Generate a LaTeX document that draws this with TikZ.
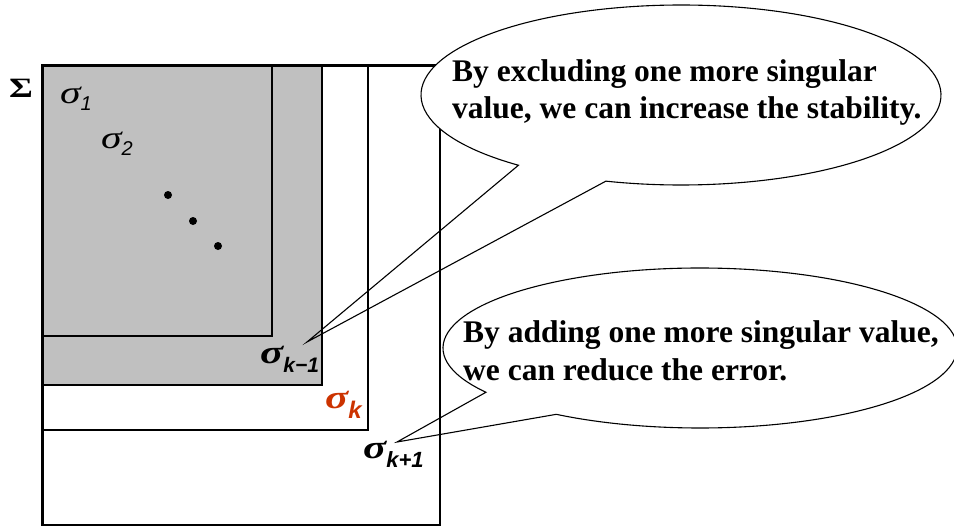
\documentclass[tikz,border=0pt]{standalone}
\usepackage{fontspec}
\setmainfont{Liberation Serif}
\newfontfamily\lsans{Liberation Sans}
\usetikzlibrary{calc,shapes.geometric}
\definecolor{boxgray}{RGB}{192,192,192}
\definecolor{sigred}{RGB}{204,51,0}
\newcommand{\wsig}{\scalebox{1.3}[1]{σ}}
\begin{document}
\begin{tikzpicture}[x=1pt,y=-1pt,
  box/.style={draw=black,line width=1.8pt},
  callout/.style={draw=black,line width=1.1pt,line join=miter},
  bubble/.style={ellipse,fill=white,inner sep=0pt,outer sep=0pt},
  bubbletext/.style={anchor=base west,inner sep=0pt,font=\bfseries\fontsize{31.5}{37}\selectfont},
  lab/.style={anchor=base west,inner sep=0pt}]
\useasboundingbox (0,0) rectangle (954,527);
\fill[white] (0,0) rectangle (954,527);
% nested boxes
\draw[box] (42,66) rectangle (440,525);
\draw[box] (42,66) rectangle (368,430);
\draw[box,fill=boxgray] (42,66) rectangle (322,385);
\draw[box,fill=boxgray] (42,66) rectangle (272,336);
\draw[line width=3pt] (42,525) -- (42,66) -- (440,66);
% labels
\node[lab] (Sig) at (9,98) {\bfseries\fontsize{28}{28}\selectfont\scalebox{1.3}[1]{Σ}};
\node[lab] (s1) at (60,103) {\fontsize{32}{32}\selectfont\itshape \wsig\lower7pt\hbox{\lsans\itshape\fontsize{20}{20}\selectfont 1}};
\node[lab] (s2) at (101,148) {\fontsize{32}{32}\selectfont\itshape \wsig\lower7pt\hbox{\lsans\itshape\fontsize{20}{20}\selectfont 2}};
\node[lab] (skm) at (260,363) {\bfseries\itshape\fontsize{33}{33}\selectfont \wsig\lower9pt\hbox{\lsans\bfseries\itshape\fontsize{21}{21}\selectfont k−1}};
\node[lab,text=sigred] (sk) at (325,408) {\bfseries\itshape\fontsize{33}{33}\selectfont \wsig\lower10pt\hbox{\lsans\bfseries\itshape\fontsize{24}{24}\selectfont k}};
\node[lab] (skp) at (363,458) {\bfseries\itshape\fontsize{33}{33}\selectfont \wsig\lower9pt\hbox{\lsans\bfseries\itshape\fontsize{22}{22}\selectfont k+1}};
% dots
\fill (168,195) circle[radius=4pt];
\fill (193,221) circle[radius=4pt];
\fill (218,246) circle[radius=4pt];
% callouts
\node[bubble,minimum width=520pt,minimum height=180pt] (bub1) at (681,95) {};
\node[bubble,minimum width=514pt,minimum height=160pt] (bub2) at (700,348) {};
\coordinate (tip1) at (307,342);
\coordinate (tip2) at (397,442);
\draw[callout] ($(bub1.center)+(128.7:260 and 90)$) arc[start angle=128.7,end angle=466.8,x radius=260,y radius=90] -- (tip1) -- cycle;
\draw[callout] ($(bub2.center)+(146.4:257 and 80)$) arc[start angle=146.4,end angle=484,x radius=257,y radius=80] -- (tip2) -- cycle;
\node[bubbletext] (t1a) at (452,82) {By excluding one more singular};
\node[bubbletext] (t1b) at (452,118) {value, we can increase the stability.};
\node[bubbletext] (t2a) at (463,342) {By adding one more singular value,};
\node[bubbletext] (t2b) at (463,380) {we can reduce the error.};
\end{tikzpicture}
\end{document}
